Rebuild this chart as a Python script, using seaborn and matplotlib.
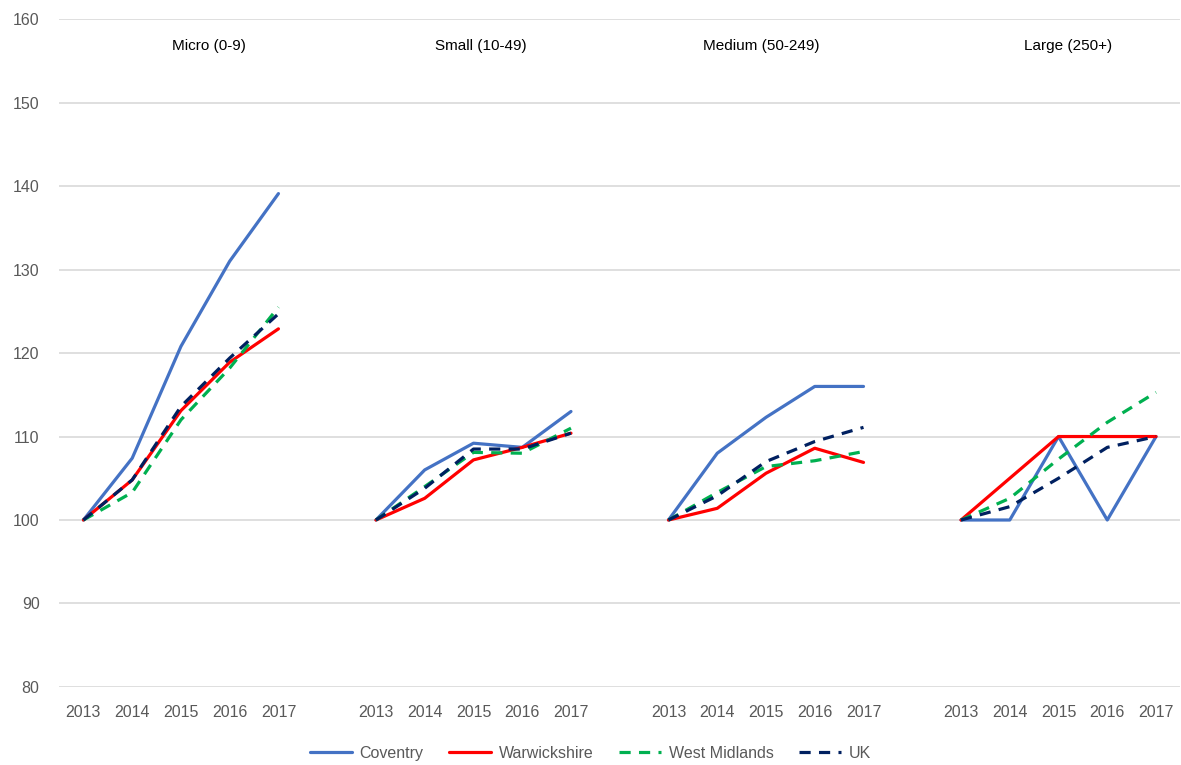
import matplotlib
matplotlib.use("Agg")
import matplotlib.pyplot as plt
import seaborn as sns
import pandas as pd

# data (index, 2013 = 100)
years = ["2013", "2014", "2015", "2016", "2017"]
groups = ["Micro (0-9)", "Small (10-49)", "Medium (50-249)", "Large (250+)"]
areas = ["Coventry", "Warwickshire", "West Midlands", "UK"]

coventry = [
    [100, 107.4, 120.8, 131.0, 139.1],
    [100, 106.0, 109.2, 108.7, 113.0],
    [100, 108.0, 112.3, 116.0, 116.0],
    [100, 100.0, 110.0, 100.0, 110.0],
]
warwickshire = [
    [100, 104.8, 113.1, 118.9, 122.9],
    [100, 102.6, 107.2, 108.7, 110.4],
    [100, 101.4, 105.6, 108.6, 106.9],
    [100, 105.0, 110.0, 110.0, 110.0],
]
west_midlands = [
    [100, 103.3, 112.0, 118.2, 125.5],
    [100, 104.0, 108.1, 108.0, 111.0],
    [100, 103.3, 106.4, 107.1, 108.2],
    [100, 102.6, 107.3, 111.7, 115.3],
]
uk = [
    [100, 104.8, 113.6, 119.4, 124.7],
    [100, 103.8, 108.5, 108.5, 110.4],
    [100, 102.9, 107.0, 109.4, 111.1],
    [100, 101.6, 105.0, 108.7, 110.0],
]

colors = {"Coventry": "#4472C4", "Warwickshire": "#FF0000",
          "West Midlands": "#00B050", "UK": "#002060"}
dashes = {"Coventry": "", "Warwickshire": "",
          "West Midlands": (3.5, 2.6), "UK": (3.5, 2.6)}

# long table, one blank slot between size bands
rows = []
for area, series in zip(areas, [coventry, warwickshire, west_midlands, uk]):
    for g, vals in enumerate(series):
        for i, v in enumerate(vals):
            rows.append({"area": area, "group": groups[g], "pos": g * 6 + i, "value": v})
df = pd.DataFrame(rows)

sns.set_theme(style="white")
plt.rcParams["font.family"] = ["Liberation Sans", "DejaVu Sans"]

fig = plt.figure(figsize=(11.81, 7.65), dpi=100)
ax = fig.add_axes([0.05, 0.102, 0.9495, 0.873])

sns.lineplot(data=df, x="pos", y="value", hue="area", style="area",
             units="group", estimator=None, hue_order=areas, style_order=areas,
             palette=colors, dashes=dashes, linewidth=2.3, ax=ax, legend=False)

ax.set_xlim(-0.5, 22.5)
ax.set_ylim(80, 160)
ax.set_yticks(range(80, 161, 10))
ax.set_xticks([g * 6 + i for g in range(4) for i in range(5)])
ax.set_xticklabels(years * 4)
ax.set_xlabel("")
ax.set_ylabel("")
ax.grid(axis="y", color="#d9d9d9", linewidth=1.2)
ax.set_axisbelow(True)
for s in ax.spines.values():
    s.set_visible(False)
ax.tick_params(axis="both", length=0, labelsize=11.5, colors="#595959")
ax.tick_params(axis="x", pad=13)
ax.tick_params(axis="y", pad=14)

# band titles
for g, xpos in zip(groups, [2.58, 8.16, 13.9, 20.2]):
    ax.text(xpos, 156.8, g, ha="center", va="center", fontsize=11, color="#000000")

handles = []
for a in areas:
    h = plt.Line2D([0], [0], color=colors[a], lw=2.3)
    if dashes[a]:
        h.set_dashes(dashes[a])
    handles.append(h)
fig.legend(handles, areas, loc="center", bbox_to_anchor=(0.5, 0.015), ncol=4,
           frameon=False, fontsize=11.5, handlelength=2.6, handletextpad=0.5,
           columnspacing=1.6, labelcolor="#595959")

fig.savefig("out.png", dpi=100)
